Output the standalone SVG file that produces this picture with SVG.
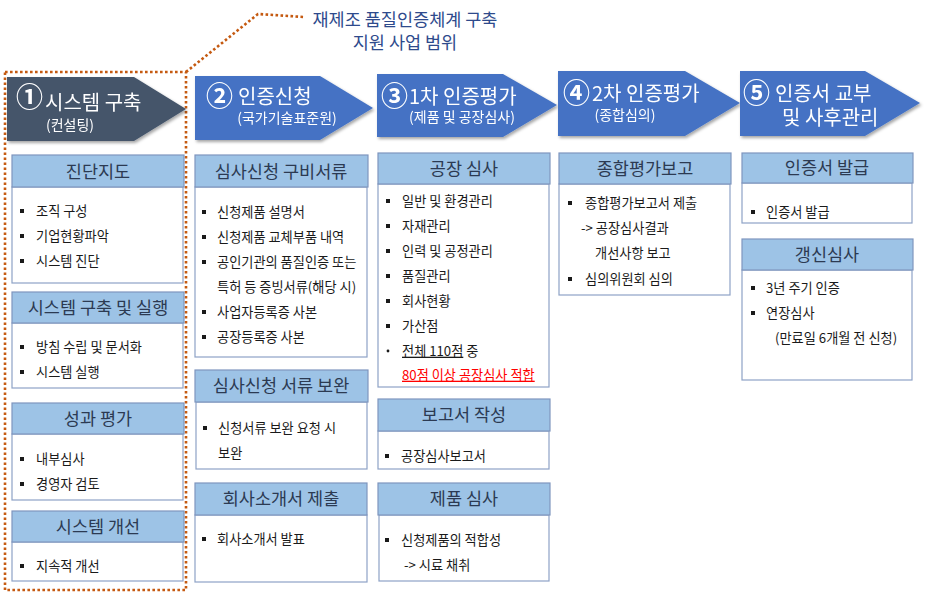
<svg xmlns="http://www.w3.org/2000/svg" width="927" height="593" viewBox="0 0 927 593">
<style>
text{font-family:"Noto Sans CJK KR","Noto Sans",sans-serif;}
.hd{fill:#9DC3E6;stroke:#7F96BE;stroke-width:1.2;}
.bd{fill:#FFFFFF;stroke:#8EA2C6;stroke-width:1.2;}
.ht{font-size:17.5px;fill:#2C3A52;text-anchor:middle;}
.it{font-size:13.2px;fill:#1A1A1A;}
.red{fill:#FF0000;}
.ar1{fill:#44546A;}
.ar{fill:#4472C4;}
.at{font-size:20px;fill:#FFFFFF;}
.cn{font-size:27px;font-weight:bold;}
.as{font-size:14px;text-anchor:middle;}
.tt{font-size:17.5px;fill:#2E4A8C;text-anchor:middle;}
.dot{fill:none;stroke:#C55A11;stroke-width:2.6;stroke-dasharray:2.6 2.4;}
</style>
<defs>
<filter id="sh" x="-10%" y="-10%" width="130%" height="140%">
<feDropShadow dx="1.5" dy="2" stdDeviation="1.5" flood-color="#000" flood-opacity="0.35"/>
</filter>
<rect id="b" x="0" y="-2" width="4" height="4" fill="#1A1A1A"/>
</defs>

<g id="scope">
<path class="dot" d="M186,72 L258,14 L304,17"/>
<rect class="dot" x="5" y="72" width="181" height="518"/>
<text class="tt" x="405" y="26">재제조 품질인증체계 구축<tspan x="405" y="49">지원 사업 범위</tspan></text>
</g>

<g id="connectors"></g>

<g id="step1" filter="url(#sh)">
<polygon class="ar1" points="7,77 134,77 186,109 134,141 7,141"/>
<text class="at"><tspan class="cn" x="16" y="107">①</tspan><tspan x="45" y="110">시스템 구축</tspan><tspan class="as" x="70" y="130">(컨설팅)</tspan></text>
</g>
<g id="step2" filter="url(#sh)">
<polygon class="ar" points="195,76 320,76 373,108 320,140 195,140"/>
<text class="at"><tspan class="cn" x="206" y="106">②</tspan><tspan x="238" y="104">인증신청</tspan><tspan class="as" x="287" y="123">(국가기술표준원)</tspan></text>
</g>
<g id="step3" filter="url(#sh)">
<polygon class="ar" points="377,74 503,74 557,105 503,137 377,137"/>
<text class="at"><tspan class="cn" x="381" y="106">③</tspan><tspan x="409" y="104">1차 인증평가</tspan><tspan class="as" x="462" y="122">(제품 및 공장심사)</tspan></text>
</g>
<g id="step4" filter="url(#sh)">
<polygon class="ar" points="558,71 685,71 740,103 685,136 558,136"/>
<text class="at"><tspan class="cn" x="563" y="103">④</tspan><tspan x="592" y="101">2차 인증평가</tspan><tspan class="as" x="625" y="120">(종합심의)</tspan></text>
</g>
<g id="step5" filter="url(#sh)">
<polygon class="ar" points="740,71 865,71 920,103 865,136 740,136"/>
<text class="at"><tspan class="cn" x="743" y="103">⑤</tspan><tspan x="775" y="101">인증서 교부</tspan><tspan x="782" y="125">및 사후관리</tspan></text>
</g>

<!-- Column 1 -->
<g id="c1b1">
<rect class="bd" x="12" y="187" width="171" height="96"/>
<rect class="hd" x="12" y="155" width="172" height="32"/>
<text class="ht" x="98" y="177.5">진단지도</text>
<use href="#b" x="20" y="211"/><text class="it" x="36" y="215.7">조직 구성</text>
<use href="#b" x="20" y="236"/><text class="it" x="36" y="240.7">기업현황파악</text>
<use href="#b" x="20" y="261"/><text class="it" x="36" y="265.7">시스템 진단</text>
</g>
<g id="c1b2">
<rect class="bd" x="12" y="323" width="171" height="65"/>
<rect class="hd" x="12" y="292" width="172" height="31"/>
<text class="ht" x="98" y="313.5">시스템 구축 및 실행</text>
<use href="#b" x="20" y="347"/><text class="it" x="36" y="351.7">방침 수립 및 문서화</text>
<use href="#b" x="20" y="372"/><text class="it" x="36" y="376.7">시스템 실행</text>
</g>
<g id="c1b3">
<rect class="bd" x="12" y="434" width="171" height="66"/>
<rect class="hd" x="12" y="403" width="172" height="31"/>
<text class="ht" x="98" y="424.5">성과 평가</text>
<use href="#b" x="20" y="459"/><text class="it" x="36" y="463.7">내부심사</text>
<use href="#b" x="20" y="484"/><text class="it" x="36" y="488.7">경영자 검토</text>
</g>
<g id="c1b4">
<rect class="bd" x="12" y="542" width="171" height="39"/>
<rect class="hd" x="12" y="511" width="172" height="31"/>
<text class="ht" x="98" y="532.5">시스템 개선</text>
<use href="#b" x="20" y="566"/><text class="it" x="36" y="570.7">지속적 개선</text>
</g>

<!-- Column 2 -->
<g id="c2b1">
<rect class="bd" x="195" y="187" width="172" height="170"/>
<rect class="hd" x="195" y="155" width="173" height="32"/>
<text class="ht" x="281" y="177.5">심사신청 구비서류</text>
<use href="#b" x="202" y="212"/><text class="it" x="217" y="216.7">신청제품 설명서</text>
<use href="#b" x="202" y="237"/><text class="it" x="217" y="241.7">신청제품 교체부품 내역</text>
<use href="#b" x="202" y="262"/><text class="it" x="217" y="266.7">공인기관의 품질인증 또는<tspan x="217" y="291.7">특허 등 증빙서류(해당 시)</tspan></text>
<use href="#b" x="202" y="312"/><text class="it" x="217" y="316.7">사업자등록증 사본</text>
<use href="#b" x="202" y="337"/><text class="it" x="217" y="341.7">공장등록증 사본</text>
</g>
<g id="c2b2">
<rect class="bd" x="196" y="402" width="171" height="67"/>
<rect class="hd" x="195" y="370" width="173" height="32"/>
<text class="ht" x="281" y="392">심사신청 서류 보완</text>
<use href="#b" x="203" y="428"/><text class="it" x="218" y="432.7">신청서류 보완 요청 시<tspan x="218" y="457.7">보완</tspan></text>
</g>
<g id="c2b3">
<rect class="bd" x="195" y="515" width="172" height="67"/>
<rect class="hd" x="195" y="483" width="172" height="32"/>
<text class="ht" x="281" y="505">회사소개서 제출</text>
<use href="#b" x="202" y="539"/><text class="it" x="217" y="543.7">회사소개서 발표</text>
</g>

<!-- Column 3 -->
<g id="c3b1">
<rect class="bd" x="378" y="184" width="171" height="203"/>
<rect class="hd" x="378" y="153" width="172" height="31"/>
<text class="ht" x="464" y="174.5">공장 심사</text>
<use href="#b" x="386" y="201"/><text class="it" x="402" y="205.7">일반 및 환경관리</text>
<use href="#b" x="386" y="226"/><text class="it" x="402" y="230.7">자재관리</text>
<use href="#b" x="386" y="251"/><text class="it" x="402" y="255.7">인력 및 공정관리</text>
<use href="#b" x="386" y="276"/><text class="it" x="402" y="280.7">품질관리</text>
<use href="#b" x="386" y="301"/><text class="it" x="402" y="305.7">회사현황</text>
<use href="#b" x="386" y="326"/><text class="it" x="402" y="330.7">가산점</text>
<circle cx="388" cy="351" r="1.4" fill="#1A1A1A"/>
<text class="it" x="402" y="355.7"><tspan text-decoration="underline">전체 110점</tspan> 중<tspan class="red" x="402" y="379.7" text-decoration="underline">80점 이상 공장심사 적합</tspan></text>
</g>
<g id="c3b2">
<rect class="bd" x="378" y="431" width="171" height="38"/>
<rect class="hd" x="378" y="399" width="172" height="32"/>
<text class="ht" x="464" y="421">보고서 작성</text>
<use href="#b" x="385" y="456"/><text class="it" x="401" y="460.7">공장심사보고서</text>
</g>
<g id="c3b3">
<rect class="bd" x="379" y="515" width="170" height="66"/>
<rect class="hd" x="378" y="483" width="172" height="32"/>
<text class="ht" x="464" y="505">제품 심사</text>
<use href="#b" x="385" y="540"/><text class="it" x="401" y="544.7">신청제품의 적합성<tspan x="404" y="569.7">-&gt; 시료 채취</tspan></text>
</g>

<!-- Column 4 -->
<g id="c4b1">
<rect class="bd" x="559" y="184" width="171" height="111"/>
<rect class="hd" x="559" y="153" width="172" height="31"/>
<text class="ht" x="645" y="174.5">종합평가보고</text>
<use href="#b" x="568" y="203"/><text class="it" x="585" y="207.7">종합평가보고서 제출<tspan x="581" y="233.2">-&gt; 공장심사결과</tspan><tspan x="595" y="258.2">개선사항 보고</tspan></text>
<use href="#b" x="568" y="279"/><text class="it" x="585" y="283.7">심의위원회 심의</text>
</g>

<!-- Column 5 -->
<g id="c5b1">
<rect class="bd" x="742" y="183" width="170" height="40"/>
<rect class="hd" x="742" y="153" width="171" height="30"/>
<text class="ht" x="827" y="174">인증서 발급</text>
<use href="#b" x="751" y="212"/><text class="it" x="766" y="216.7">인증서 발급</text>
</g>
<g id="c5b2">
<rect class="bd" x="742" y="270" width="170" height="110"/>
<rect class="hd" x="742" y="239" width="171" height="31"/>
<text class="ht" x="827" y="260.5">갱신심사</text>
<use href="#b" x="751" y="288"/><text class="it" x="766" y="292.7">3년 주기 인증</text>
<use href="#b" x="751" y="313"/><text class="it" x="766" y="317.7">연장심사<tspan x="775" y="342.7">(만료일 6개월 전 신청)</tspan></text>
</g>
</svg>
